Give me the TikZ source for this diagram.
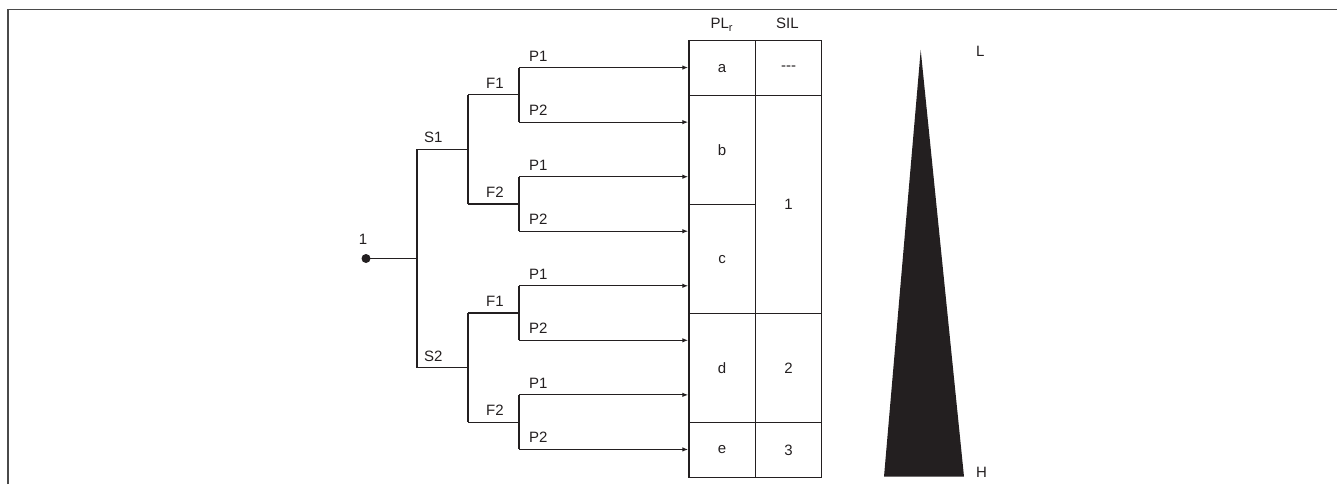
\documentclass[tikz,border=0pt]{standalone}
\usepackage{fontspec}
\setmainfont{Liberation Sans}
\usetikzlibrary{arrows.meta}
\definecolor{ink}{HTML}{231F20}
\definecolor{framecol}{HTML}{4A4A4A}
\begin{document}
\begin{tikzpicture}[x=1pt,y=-1pt,
  line/.style={draw=ink, line width=1.2pt},
  arr/.style={line, -{Latex[length=6pt,width=4.5pt]}},
  lbl/.style={anchor=base west, inner sep=0pt, font=\fontsize{15}{18}\selectfont, text=ink},
  cell/.style={draw=ink, line width=1.2pt, minimum width=66.4pt, inner sep=0pt, anchor=north west, font=\fontsize{15}{18}\selectfont, text=ink},
  hdr/.style={anchor=base, inner sep=0pt, font=\fontsize{15}{18}\selectfont, text=ink},
  dotnode/.style={circle, fill=ink, inner sep=0pt, minimum size=9pt},
  frameline/.style={draw=framecol, line width=1.6pt}
]
\useasboundingbox (0,0) rectangle (1337,484);
% frame
\draw[frameline] (8,484) -- (8,9.5) -- (1337,9.5);

% table, PL_r column
\node[cell, minimum height=54.55pt]  (ca) at (688.3,40.3)   {a};
\node[cell, minimum height=109.1pt]  (cb) at (688.3,94.85)  {b};
\node[cell, minimum height=109.1pt]  (cc) at (688.3,203.95) {c};
\node[cell, minimum height=109.1pt]  (cd) at (688.3,313.05) {d};
\node[cell, minimum height=54.55pt]  (ce) at (688.3,422.15) {e};
% SIL column
\node[cell, minimum height=54.55pt]  (sa) at (754.7,40.3)   {-{}-{}-};
\node[cell, minimum height=218.2pt]  (sb) at (754.7,94.85)  {1};
\node[cell, minimum height=109.1pt]  (sd) at (754.7,313.05) {2};
\node[cell, minimum height=54.55pt]  (se) at (754.7,422.15) {3};
% headers
\node[hdr] (hpl) at (721.5,28.5) {PL\raisebox{-3.5pt}{\fontsize{11}{12}\selectfont r}};
\node[hdr] (hsil) at (787.4,28.5) {SIL};

% root
\node[dotnode] (root) at (366,258.5) {};
\node[hdr] (rootl) at (363,244) {1};
\coordinate (J0) at (417,258.5);
\draw[line] (root.center) -- (J0);

\foreach \s/\ys in {1/149.4, 2/367.6} {
  \coordinate (S\s) at (417,\ys);
  \coordinate (S\s e) at (468,\ys);
  \draw[line] (S\s) -- (S\s e);
  \node[lbl] (S\s l) at (424,\ys-6.5) {S\s};
  \foreach \f/\offf in {1/-54.55, 2/54.55} {
    \pgfmathsetmacro\yf{\ys+\offf}
    \coordinate (F\s\f) at (468,\yf);
    \coordinate (F\s\f e) at (519,\yf);
    \draw[line] (F\s\f) -- (F\s\f e);
    \node[lbl] (F\s\f l) at (486,\yf-6.5) {F\f};
    \foreach \p/\offp in {1/-27.275, 2/27.275} {
      \pgfmathsetmacro\yp{\yf+\offp}
      \coordinate (P\s\f\p) at (519,\yp);
      \coordinate (T\s\f\p) at (688.3,\yp);
      \draw[arr] (P\s\f\p) -- (T\s\f\p);
      \node[lbl] (P\s\f\p l) at (529,\yp-6.5) {P\p};
    }
    \draw[line] (P\s\f1) -- (P\s\f2);
  }
  \draw[line] (F\s1) -- (F\s2);
}
\draw[line] (S1) -- (S2);

% wedge
\fill[ink] (920.7,50) -- (964,476.7) -- (884,476.7) -- cycle;
\node[lbl] (lowl) at (976,56.7) {L};
\node[lbl] (highl) at (976,477) {H};
\end{tikzpicture}
\end{document}
